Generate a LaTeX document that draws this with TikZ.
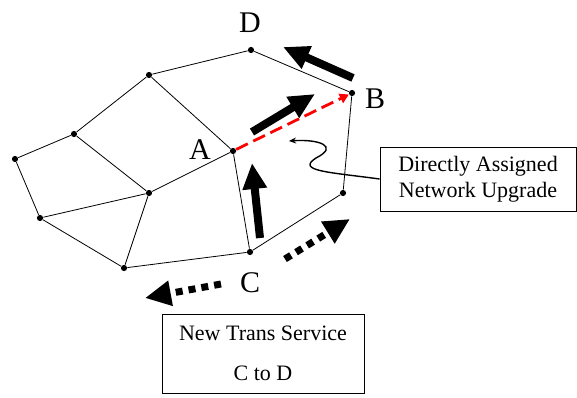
\documentclass[tikz,border=0pt]{standalone}
\usepackage{fontspec}
\setmainfont{Liberation Serif}
\usetikzlibrary{arrows.meta}
\def\dotR{3.1pt}
\def\thin{0.8pt}

\begin{document}
\begin{tikzpicture}[
    x=1pt, y=-1pt,
    line width=\thin,
    dot/.style={circle, fill, inner sep=0pt, minimum size=2*\dotR},
    letter/.style={inner sep=0pt, font=\fontsize{30}{30}\selectfont},
    bigarrow/.style={line width=8pt, -{Triangle[length=26pt,width=23pt]}},
    dotarrow/.style={line width=7pt, dash pattern=on 7pt off 6pt,
        -{Triangle[length=26pt,width=24pt]}},
    upgrade/.style={red, line width=2.8pt, dash pattern=on 13pt off 6pt,
        -{Triangle[length=9pt,width=10pt]}},
    box/.style={draw, line width=\thin, align=center, inner sep=0pt}
]
\useasboundingbox (0,0) rectangle (577,398);

% network nodes
\node[dot] (D) at (251,50) {};
\node[dot] (B) at (352,93) {};
\node[dot] (A) at (233,151) {};
\node[dot] (C) at (250,252) {};
\node[dot] (E) at (343,193) {};
\node[dot] (p1) at (149,75) {};
\node[dot] (p2) at (74,134) {};
\node[dot] (p3) at (15,159) {};
\node[dot] (p4) at (149,193) {};
\node[dot] (p5) at (40,218) {};
\node[dot] (p6) at (124,268) {};

\node[letter] at (250,23) {D};
\node[letter] at (375,99) {B};
\node[letter] at (200,150) {A};
\node[letter] at (250,283) {C};

% lines
\draw (p1) -- (D) -- (B) -- (E) -- (C) -- (A) -- (p1);
\draw (p1) -- (p2) -- (p3) -- (p5) -- (p6) -- (C);
\draw (p2) -- (p4) -- (A);
\draw (p5) -- (p4) -- (p6);

% upgrade A to B
\draw[upgrade] (A) -- (B);

% flow
\draw[bigarrow] (260,238) -- (252,163);
\draw[bigarrow] (252,132) -- (315,94);
\draw[bigarrow] (353,78) -- (283,47);
\draw[dotarrow] (285,259) -- (350,219);
\draw[dotarrow] (221,284) -- (145,298);

% boxes
\node[box, minimum width=196pt, minimum height=64pt,
    font=\fontsize{22}{26}\selectfont] (dau) at (478,179)
    {Directly Assigned\\Network Upgrade};
\node[box, minimum width=202pt, minimum height=79pt,
    font=\fontsize{22}{40}\selectfont] (svc) at (263,353.5)
    {New Trans Service\\C to D};

\coordinate (tip) at (289,141);
\draw[line width=1.4pt, -{Stealth[length=7pt,width=6pt]}] (dau.west)
    .. controls (328,172) and (296,171) .. (316,158)
    .. controls (340,146) and (318,139) .. (tip);
\end{tikzpicture}
\end{document}
